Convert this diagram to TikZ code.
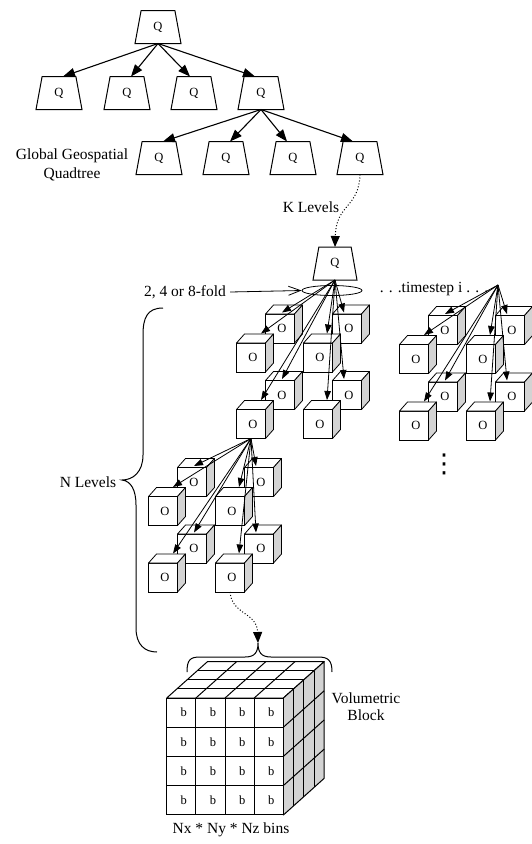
\documentclass[tikz,border=0pt]{standalone}
\usepackage{fontspec}
\setmainfont{Liberation Serif}
\newfontfamily\dejavu{DejaVu Sans}
\usetikzlibrary{shapes.geometric,arrows.meta,calc}
\definecolor{sidegray}{RGB}{211,211,211}
\tikzset{
  qnode/.style={trapezium, trapezium stretches=true, trapezium left angle=81, trapezium right angle=81,
    minimum width=46pt, minimum height=33pt, inner sep=0pt, outer sep=0pt, draw, line width=1pt, fill=white,
    font=\fontsize{12.5}{14}\selectfont},
  treeedge/.style={line width=1.1pt, -{Triangle[length=12pt,width=9pt]}},
  octedge/.style={line width=0.8pt, -{Triangle[length=9pt,width=6.5pt]}},
  cubefront/.style={draw, fill=white, line width=0.8pt, minimum size=29pt, inner sep=0pt, outer sep=0pt,
    font=\fontsize{12.5}{14}\selectfont},
  cubeface/.style={draw, line width=0.8pt, line join=round},
  bcell/.style={draw, fill=white, line width=1pt, minimum size=29.17pt, inner sep=0pt, outer sep=0pt,
    font=\fontsize{12.5}{14}\selectfont},
  lbl/.style={font=\fontsize{15.5}{18}\selectfont, align=center, inner sep=0pt},
  dotedge/.style={dotted, line width=1pt, -{Triangle[length=11pt,width=9pt]}},
}
\newcommand\octcube[3]{%
  \node[cubefront] (#1) at (#2,#3) {\kern4pt O};
  \filldraw[cubeface, fill=white] (#1.north west) -- ++(8,-9) -- ++(29,0) -- (#1.north east) -- cycle;
  \filldraw[cubeface, fill=sidegray] (#1.north east) -- ++(8,-9) -- ++(0,29) -- (#1.south east) -- cycle;
}
\newcommand\octgroup[1]{%
  \octcube{#1blt}{280}{328.5}
  \octcube{#1brt}{347}{328.5}
  \octcube{#1blb}{280}{395}
  \octcube{#1brb}{347}{395}
  \octcube{#1flt}{251}{357.5}
  \octcube{#1frt}{318}{357.5}
  \octcube{#1flb}{251}{424}
  \octcube{#1frb}{318}{424}
}
\newcommand\octarrows[2]{%
  \draw[octedge] (#2) -- ($(#1blt)+(2,-16)$);
  \draw[octedge] (#2) -- ($(#1brt)+(-3,-16)$);
  \draw[octedge] (#2) -- ($(#1blb)+(2,-16)$);
  \draw[octedge] (#2) -- ($(#1brb)+(-3,-16)$);
  \draw[octedge] (#2) -- ($(#1flt)+(10,-24)$);
  \draw[octedge] (#2) -- ($(#1frt)+(9,-24)$);
  \draw[octedge] (#2) -- ($(#1flb)+(10,-24)$);
  \draw[octedge] (#2) -- ($(#1frb)+(9,-24)$);
}
\begin{document}
\begin{tikzpicture}[x=1pt,y=-1pt]
\useasboundingbox (0,0) rectangle (531,844);

% quadtree
\node[qnode] (q0) at (158,27) {Q};
\node[qnode] (q1) at (59,93) {Q};
\node[qnode] (q2) at (127,93) {Q};
\node[qnode] (q3) at (194,93) {Q};
\node[qnode] (q4) at (261,93) {Q};
\node[qnode] (q41) at (159,158) {Q};
\node[qnode] (q42) at (226,158) {Q};
\node[qnode] (q43) at (293,158) {Q};
\node[qnode] (q44) at (360,158) {Q};
\draw[treeedge] (q0.south) -- ([xshift=4pt]q1.north);
\draw[treeedge] (q0.south) -- ([xshift=4pt]q2.north);
\draw[treeedge] (q0.south) -- ([xshift=-4pt]q3.north);
\draw[treeedge] (q0.south) -- ([xshift=-6pt]q4.north);
\draw[treeedge] (q4.south) -- ([xshift=4pt]q41.north);
\draw[treeedge] (q4.south) -- ([xshift=4pt]q42.north);
\draw[treeedge] (q4.south) -- ([xshift=-6pt]q43.north);
\draw[treeedge] (q4.south) -- ([xshift=-7pt]q44.north);
\node[lbl, font=\fontsize{15.5}{19}\selectfont] (gq) at (72,164.5) {Global Geospatial\\Quadtree};

% octree root
\node[qnode, minimum width=44pt] (oq) at (335,263.5) {Q};
\draw[dotedge] (q44.south) .. controls (359,208) and (336,204) .. (oq.north);
\node[lbl] (kl) at (311,207) {K Levels};

% octree groups
\octgroup{oa}
\begin{scope}[shift={(163,1.5)}]
\octgroup{ob}
\end{scope}
\begin{scope}[shift={(-88,153.5)}]
\octgroup{oc}
\end{scope}
\coordinate (torig) at (498,285);
\octarrows{oa}{oq.south}
\octarrows{ob}{torig}
\octarrows{oc}{oaflb.south}

\node[draw, ellipse, line width=0.8pt, minimum width=60pt, minimum height=10pt, inner sep=0pt] (fold) at (332,290.5) {};
\node[lbl] (foldlbl) at (185,292) {2, 4 or 8-fold};
\draw[line width=0.8pt, -{Straight Barb[length=12pt,width=9pt]}] ([xshift=4pt]foldlbl.east) -- (fold.west);
\node[lbl] (ts) at (434,289) {. . .timestep i . . .};
\node[inner sep=0pt, font=\dejavu\fontsize{26}{26}\selectfont] (vd) at (444,464) {⋮};

% N levels brace
\draw[line width=1pt] (163,308) .. controls (147,308) and (143,318) .. (143,335) -- (143,455)
  .. controls (143,472) and (133,480) .. (122,480)
  .. controls (131,481) and (136,490) .. (136,505) -- (136,628)
  .. controls (136,645) and (145,652) .. (157,652);
\node[lbl] (nl) at (88,482) {N Levels};

% brace over block
\coordinate (bracetip) at (258,643);
\draw[line width=1pt] (187,672) .. controls (187,660) and (190,657) .. (200,657) -- (245,657)
  .. controls (255,657) and (258,652) .. (bracetip)
  .. controls (258,652) and (261,657) .. (271,657) -- (318,657)
  .. controls (328,657) and (332,660) .. (332,672);
\draw[dotedge] (ocfrb.south) .. controls (232,615) and (257,612) .. (bracetip);

% volumetric block
\filldraw[fill=white, line width=1pt, line join=round] (166.7,698) -- (207.5,661.6) -- (324.2,661.6) -- (283.4,698) -- cycle;
\filldraw[fill=sidegray, line width=1pt, line join=round] (283.4,698) -- (324.2,661.6) -- (324.2,778.3) -- (283.4,815) -- cycle;
\foreach \k in {1,2,3} {
  \draw[line width=1pt] ({166.7+10.2*\k},{698-9.1*\k}) -- ++(116.7,0);
  \draw[line width=1pt] ({166.7+29.17*\k},698) -- ++(40.8,-36.4);
  \draw[line width=1pt] ({283.4+10.2*\k},{698-9.1*\k}) -- ++(0,116.7);
  \draw[line width=1pt] (283.4,{698+29.17*\k}) -- ++(40.8,-36.4);
}
\foreach \i in {0,...,3} {
  \foreach \j in {0,...,3} {
    \node[bcell] (cell\i\j) at ({181.3+29.17*\i},{712.6+29.17*\j}) {\kern5pt b};
  }
}
\node[lbl, font=\fontsize{15.5}{17}\selectfont] (vb) at (366,707) {Volumetric\\Block};
\node[lbl] (nb) at (231,830) {Nx * Ny * Nz bins};
\end{tikzpicture}
\end{document}
